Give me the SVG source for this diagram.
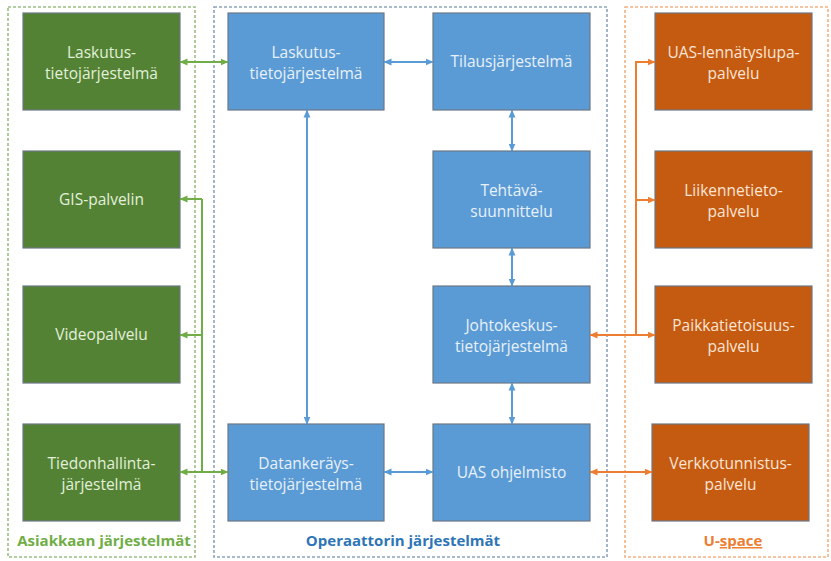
<svg xmlns="http://www.w3.org/2000/svg" width="831" height="561" viewBox="0 0 831 561">
<style>
.node rect{stroke:#6b7785;stroke-width:1.2}
.g rect{fill:#548235}
.b rect{fill:#5b9bd5}
.o rect{fill:#c55a11}
.node text{font-family:"Open Sans","Noto Sans","DejaVu Sans",sans-serif;font-size:15.5px;text-anchor:middle}
.g text{fill:#e2f0d9}
.b text{fill:#e8f1fa}
.o text{fill:#fbe5d6}
.cont{fill:none;stroke-width:1.6;stroke-dasharray:3 2}
.lbl{font-family:"Open Sans","Noto Sans","DejaVu Sans",sans-serif;font-size:15px;font-weight:bold;text-anchor:middle}
.cg{fill:none;stroke:#70ad47;stroke-width:2}
.cb{fill:none;stroke:#5b9bd5;stroke-width:2}
.co{fill:none;stroke:#ed7d31;stroke-width:2}
</style>
<defs>
<marker id="ag" viewBox="0 0 8 8" refX="7.5" refY="4" markerWidth="8" markerHeight="8" markerUnits="userSpaceOnUse" orient="auto-start-reverse"><path d="M0,0.5 L8,4 L0,7.5 z" fill="#70ad47"/></marker>
<marker id="ab" viewBox="0 0 8 8" refX="7.5" refY="4" markerWidth="8" markerHeight="8" markerUnits="userSpaceOnUse" orient="auto-start-reverse"><path d="M0,0.5 L8,4 L0,7.5 z" fill="#5b9bd5"/></marker>
<marker id="ao" viewBox="0 0 8 8" refX="7.5" refY="4" markerWidth="8" markerHeight="8" markerUnits="userSpaceOnUse" orient="auto-start-reverse"><path d="M0,0.5 L8,4 L0,7.5 z" fill="#ed7d31"/></marker>
</defs>
<rect width="831" height="561" fill="#ffffff"/>
<g id="containers">
<rect class="cont" x="8" y="7" width="187" height="550" stroke="#9cbf82"/>
<rect class="cont" x="214" y="7" width="393" height="550" stroke="#8fa4bd"/>
<rect class="cont" x="625" y="7" width="203" height="550" stroke="#f4b183"/>
<text class="lbl" x="104" y="546" fill="#70ad47">Asiakkaan järjestelmät</text>
<text class="lbl" x="403" y="546" fill="#2e75b6">Operaattorin järjestelmät</text>
<text class="lbl" x="733" y="546" fill="#ed7d31">U-<tspan text-decoration="underline">space</tspan></text>
</g>
<g id="n-g1" class="node g"><rect x="23" y="13" width="157" height="97"/><text x="101.5" y="58">Laskutus-</text><text x="101.5" y="79">tietojärjestelmä</text></g>
<g id="n-g2" class="node g"><rect x="23" y="151" width="157" height="97"/><text x="101.5" y="205">GIS-palvelin</text></g>
<g id="n-g3" class="node g"><rect x="23" y="286" width="157" height="97"/><text x="101.5" y="340">Videopalvelu</text></g>
<g id="n-g4" class="node g"><rect x="23" y="424" width="157" height="97"/><text x="101.5" y="469">Tiedonhallinta-</text><text x="101.5" y="490">järjestelmä</text></g>
<g id="n-b1" class="node b"><rect x="228" y="13" width="156" height="97"/><text x="306" y="58">Laskutus-</text><text x="306" y="79">tietojärjestelmä</text></g>
<g id="n-b2" class="node b"><rect x="433" y="13" width="157" height="97"/><text x="511.5" y="67">Tilausjärjestelmä</text></g>
<g id="n-b3" class="node b"><rect x="433" y="151" width="157" height="97"/><text x="511.5" y="196">Tehtävä-</text><text x="511.5" y="217">suunnittelu</text></g>
<g id="n-b4" class="node b"><rect x="433" y="286" width="157" height="97"/><text x="511.5" y="331">Johtokeskus-</text><text x="511.5" y="352">tietojärjestelmä</text></g>
<g id="n-b5" class="node b"><rect x="228" y="424" width="156" height="97"/><text x="306" y="469">Datankeräys-</text><text x="306" y="490">tietojärjestelmä</text></g>
<g id="n-b6" class="node b"><rect x="433" y="424" width="157" height="97"/><text x="511.5" y="478">UAS ohjelmisto</text></g>
<g id="n-o1" class="node o"><rect x="655" y="13" width="157" height="97"/><text x="733.5" y="58">UAS-lennätyslupa-</text><text x="733.5" y="79">palvelu</text></g>
<g id="n-o2" class="node o"><rect x="655" y="151" width="157" height="97"/><text x="733.5" y="196">Liikennetieto-</text><text x="733.5" y="217">palvelu</text></g>
<g id="n-o3" class="node o"><rect x="655" y="286" width="157" height="97"/><text x="733.5" y="331">Paikkatietoisuus-</text><text x="733.5" y="352">palvelu</text></g>
<g id="n-o4" class="node o"><rect x="652" y="424" width="157" height="97"/><text x="730.5" y="469">Verkkotunnistus-</text><text x="730.5" y="490">palvelu</text></g>
<g id="connectors">
<path class="cg" d="M180,62 H228" marker-start="url(#ag)" marker-end="url(#ag)"/>
<path class="cg" d="M202,199 V472"/>
<path class="cg" d="M202,199 H180" marker-end="url(#ag)"/>
<path class="cg" d="M202,335 H180" marker-end="url(#ag)"/>
<path class="cg" d="M180,472 H228" marker-start="url(#ag)" marker-end="url(#ag)"/>
<path class="cb" d="M384,62 H433" marker-start="url(#ab)" marker-end="url(#ab)"/>
<path class="cb" d="M307,110 V424" marker-start="url(#ab)" marker-end="url(#ab)"/>
<path class="cb" d="M512,110 V151" marker-start="url(#ab)" marker-end="url(#ab)"/>
<path class="cb" d="M512,248 V286" marker-start="url(#ab)" marker-end="url(#ab)"/>
<path class="cb" d="M512,383 V424" marker-start="url(#ab)" marker-end="url(#ab)"/>
<path class="cb" d="M384,472 H433" marker-start="url(#ab)" marker-end="url(#ab)"/>
<path class="co" d="M590,335 H655" marker-start="url(#ao)" marker-end="url(#ao)"/>
<path class="co" d="M636,335 V62 H655" marker-end="url(#ao)"/>
<path class="co" d="M636,200 H655" marker-end="url(#ao)"/>
<path class="co" d="M590,472 H652" marker-start="url(#ao)" marker-end="url(#ao)"/>
</g>
</svg>
